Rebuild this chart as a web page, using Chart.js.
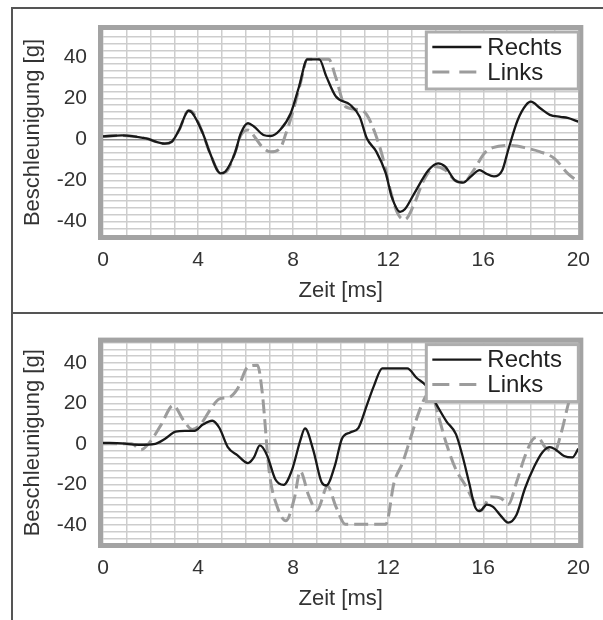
<!DOCTYPE html>
<html>
<head>
<meta charset="utf-8">
<script src="https://cdn.jsdelivr.net/npm/chart.js@4"></script>
<style>
  body { margin: 0; background: #fff; }
  #page { position: relative; width: 603px; height: 620px; overflow: hidden; }
  .rule { position: absolute; background: #555; }
  canvas { position: absolute; left: 0; }
</style>
</head>
<body>
<div id="page">
  <canvas id="top-chart" width="603" height="310" style="top:0"></canvas>
  <canvas id="bottom-chart" width="603" height="306" style="top:314px"></canvas>
  <div class="rule" style="left:11px; top:7px; width:592px; height:2px"></div>
  <div class="rule" style="left:11px; top:7px; width:2px; height:613px"></div>
  <div class="rule" style="left:11px; top:312px; width:592px; height:2px"></div>
</div>
<script>
// series labels
const seriesNames = ['Rechts', 'Links'];

// upper panel, time [ms] and acceleration [g]
const topRechtsT = [0, 0.8, 1.8, 2.6, 2.9, 3.2, 3.6, 3.75, 4.2, 4.5, 4.95, 5.15, 5.55, 5.8, 6.1, 6.35, 6.75, 7.05, 7.45, 7.9, 8.25, 8.6, 9.1, 9.4, 9.8, 10.4, 10.8, 11.1, 11.5, 11.9, 12.15, 12.5, 12.7, 13.1, 13.7, 14.1, 14.4, 14.8, 15.15, 15.5, 15.85, 16.1, 16.45, 16.8, 17.05, 17.45, 17.8, 18.0, 18.4, 18.8, 19.25, 19.55, 20];
const topRechtsG = [1.5, 2, 0.5, -2, -1, 4.6, 14, 13, 3, -6.6, -16.5, -15.6, -6.6, 3, 7.9, 6.3, 2.2, 1.7, 4.6, 12.8, 25.8, 39, 39, 30.6, 20.9, 16.9, 11.1, 0.6, -5.9, -16.5, -27.9, -35.2, -34, -26.2, -14.9, -11.6, -13.2, -19.8, -21, -17.8, -14.9, -16.5, -18, -15, -5.1, 9.5, 16.8, 18.4, 15.2, 12, 11, 10.5, 8.7];
const topLinksT = [0, 0.8, 1.8, 2.6, 2.9, 3.2, 3.6, 3.75, 4.2, 4.5, 4.95, 5.2, 5.55, 5.8, 6.1, 6.4, 6.65, 7.05, 7.45, 7.7, 8.0, 8.3, 8.6, 9.5, 9.8, 10.2, 10.8, 11.1, 11.45, 11.8, 12.05, 12.4, 12.7, 13.05, 13.5, 13.95, 14.4, 14.8, 15.15, 15.6, 16.05, 16.4, 17.2, 17.9, 18.4, 19.0, 19.55, 20];
const topLinksG = [1.5, 2, 0.5, -2, -1, 4.6, 14, 13.5, 3, -6.6, -16.5, -15.6, -6.6, 2, 4.6, 1, -3, -6, -4.4, 3, 14, 27, 39, 39, 30, 16, 14.5, 12, 3, -10, -23, -36, -39, -32.6, -19.8, -13.2, -14.9, -19.8, -21, -14.9, -6.7, -4, -2.9, -4.4, -6, -9.3, -16.5, -20.6];

// lower panel
const botRechtsT = [0, 0.8, 1.5, 2.2, 2.6, 3.05, 3.45, 3.85, 4.2, 4.6, 4.9, 5.25, 5.65, 6.1, 6.35, 6.6, 6.9, 7.25, 7.6, 7.95, 8.3, 8.5, 8.85, 9.2, 9.4, 9.75, 10.05, 10.4, 10.75, 11.1, 11.4, 11.75, 12.8, 13.2, 13.6, 14.05, 14.45, 14.85, 15.1, 15.4, 15.65, 15.85, 16.15, 16.4, 16.75, 17.05, 17.4, 17.75, 18.15, 18.5, 18.8, 19.05, 19.4, 19.75, 20];
const botRechtsG = [0.5, 0.2, -0.5, 0, 2.4, 6, 6.4, 6.4, 9.5, 11.4, 7.8, -1.6, -5.6, -9.5, -6.7, -0.8, -5.6, -17.5, -20.3, -13, 1.6, 7.6, -3.2, -19, -20.6, -11, 2.4, 5.6, 7.9, 19, 28.6, 37.3, 37.3, 32.5, 28.6, 19, 11.1, 4.8, -4.8, -19, -31, -33.3, -30, -31, -35.7, -38.9, -35, -22.2, -11.1, -4, -1.6, -2.9, -6, -6.7, -2.4];
const botLinksT = [0, 1.2, 1.6, 2.0, 2.45, 2.95, 3.4, 3.75, 4.1, 4.55, 4.9, 5.3, 5.65, 6.1, 6.5, 6.7, 7.0, 7.35, 7.7, 8.05, 8.3, 8.65, 9.0, 9.45, 9.8, 10.2, 11.9, 12.25, 12.6, 12.95, 13.3, 13.6, 13.8, 14.1, 14.45, 14.85, 15.25, 15.65, 15.9, 16.3, 16.75, 17.05, 17.4, 17.75, 18.1, 18.3, 18.6, 19.0, 19.3, 19.6, 19.8, 20];
const botLinksG = [0, 0, -2.9, 1.3, 9.5, 19, 11.4, 7.1, 9.5, 17.5, 22.2, 22.9, 27, 38, 38.8, 25.4, -14.3, -31.7, -38, -27, -13.5, -25.4, -33, -21, -31, -39.7, -39.7, -19, -9.5, 3.2, 15.9, 23.8, 25.4, 14.3, 0, -12.7, -20.6, -29.4, -33, -26.2, -27, -30, -19, -6.3, 2.4, 3.2, -1.6, -3.9, 6.3, 20.6, 27, 33];

const FONT = '"Liberation Sans", Arial, sans-serif';

const toPoints = (ts, gs) => ts.map((t, i) => ({ x: t, y: gs[i] }));

const framePlugin = {
  id: 'frameAndLegend',
  afterDatasetsDraw(chart) {
    const { ctx, chartArea: a } = chart;
    ctx.save();
    // thick grey plot border
    ctx.strokeStyle = '#a3a3a3';
    ctx.lineWidth = 5;
    ctx.strokeRect(a.left - 2.5, a.top - 2.5, a.width + 5, a.height + 5);

    // legend box inside plot, top right
    const bw = 152, bh = 57;
    const bx = a.right - bw, by = a.top + 2;
    ctx.fillStyle = '#fff';
    ctx.fillRect(bx, by, bw, bh);
    ctx.lineWidth = 3;
    ctx.strokeStyle = '#adadad';
    ctx.strokeRect(bx, by, bw, bh);

    chart.data.datasets.forEach((ds, i) => {
      const y = by + 15 + i * 25;
      ctx.beginPath();
      ctx.setLineDash(ds.borderDash && ds.borderDash.length ? [17, 10] : []);
      ctx.strokeStyle = ds.borderColor;
      ctx.lineWidth = ds.borderWidth;
      ctx.moveTo(bx + 6, y);
      ctx.lineTo(bx + 55, y);
      ctx.stroke();
      ctx.setLineDash([]);
      ctx.fillStyle = '#222';
      ctx.font = '24px ' + FONT;
      ctx.textBaseline = 'middle';
      ctx.fillText(ds.label, bx + 61, y + 1);
    });
    ctx.restore();
  }
};

function makeChart(canvasId, rechts, links, yMin, yMax, padTop, xAxisHeight, xTitlePad) {
  const ctx = document.getElementById(canvasId).getContext('2d');
  return new Chart(ctx, {
    type: 'line',
    data: {
      datasets: [
        {
          label: seriesNames[0],
          data: rechts,
          borderColor: '#181818',
          borderWidth: 2.3,
          pointRadius: 0,
          cubicInterpolationMode: 'monotone'
        },
        {
          label: seriesNames[1],
          data: links,
          borderColor: '#9c9c9c',
          borderWidth: 3,
          borderDash: [14, 6],
          pointRadius: 0,
          cubicInterpolationMode: 'monotone'
        }
      ]
    },
    options: {
      responsive: false,
      animation: false,
      devicePixelRatio: 1,
      layout: { padding: { top: padTop, right: 18, left: 0, bottom: 0 } },
      plugins: { legend: { display: false }, tooltip: { enabled: false } },
      scales: {
        x: {
          type: 'linear',
          min: 0,
          max: 20,
          border: { display: false },
          grid: { color: '#cdcdcd', lineWidth: 1.5, drawTicks: false },
          ticks: {
            stepSize: 1,
            autoSkip: false,
            maxRotation: 0,
            padding: 13,
            color: '#333',
            font: { family: FONT, size: 21 },
            callback: (v) => (v % 4 === 0 ? String(v) : '')
          },
          title: {
            display: true,
            text: 'Zeit [ms]',
            color: '#333',
            font: { family: FONT, size: 22 },
            padding: { top: 0, bottom: xTitlePad }
          },
          afterFit: (scale) => { scale.height = xAxisHeight; }
        },
        y: {
          type: 'linear',
          min: yMin,
          max: yMax,
          border: { display: false },
          grid: {
            drawTicks: false,
            lineWidth: 1.5,
            color: (c) => (Math.abs(c.tick.value) < 1e-6 ? '#8f8f8f' : '#cdcdcd')
          },
          ticks: {
            stepSize: 10 / 3,
            autoSkip: false,
            includeBounds: false,
            padding: 16,
            color: '#333',
            font: { family: FONT, size: 21 },
            callback: (v) => {
              const r = v / 20;
              return Math.abs(r - Math.round(r)) < 1e-3 ? String(Math.round(v)) : '';
            }
          },
          title: {
            display: true,
            text: 'Beschleunigung [g]',
            color: '#333',
            font: { family: FONT, size: 22 },
            padding: { top: 20, bottom: 0 }
          },
          afterFit: (scale) => { scale.width = 103; }
        }
      }
    },
    plugins: [framePlugin]
  });
}

makeChart('top-chart', toPoints(topRechtsT, topRechtsG), toPoints(topLinksT, topLinksG), -46.5, 53.3, 30, 75, 6);
makeChart('bottom-chart', toPoints(botRechtsT, botRechtsG), toPoints(botLinksT, botLinksG), -49, 50, 21, 77, 8);
</script>
</body>
</html>
